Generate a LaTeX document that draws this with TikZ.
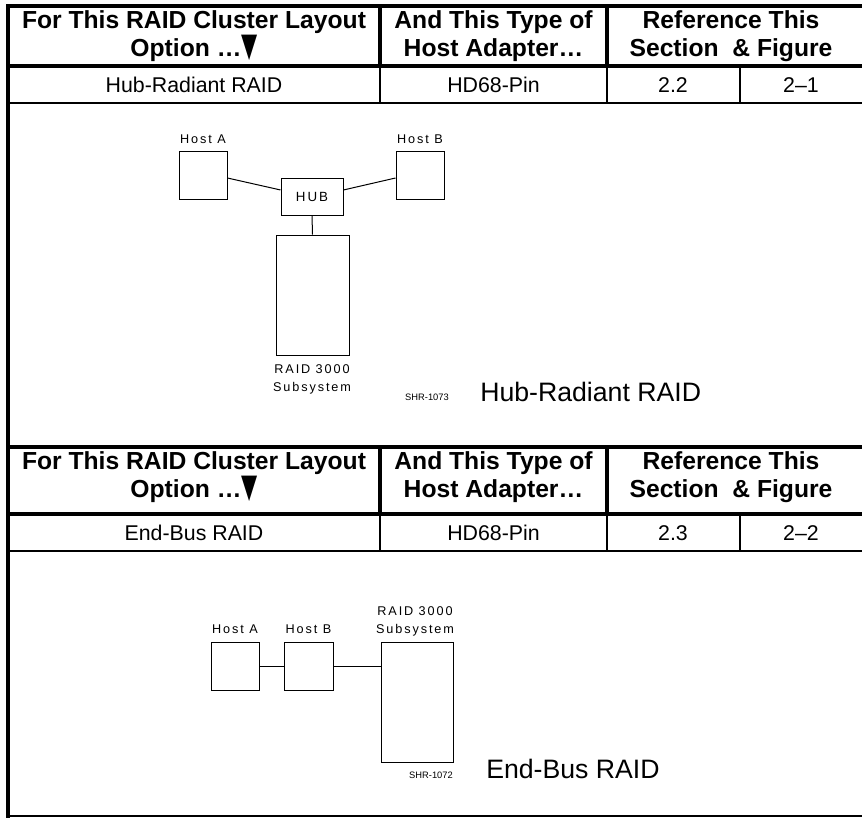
\documentclass[tikz,border=0pt]{standalone}
\usepackage{fontspec}
\setmainfont{Liberation Sans}
\newfontfamily\dejavu{DejaVu Sans}
\newfontfamily\lblfont[LetterSpace=15]{Liberation Sans}
\usetikzlibrary{calc}
\newcommand{\downtri}{{\dejavu\scalebox{0.85}[1.35]{▼}}}
\begin{document}
\begin{tikzpicture}[x=0.75pt,y=-0.75pt,
  thickrule/.style={line width=3pt},
  thinrule/.style={line width=1.8pt},
  hdr/.style={font=\fontsize{18.5}{21}\selectfont\bfseries, align=center, inner sep=0},
  cell/.style={font=\fontsize{16}{18}\selectfont, inner sep=0},
  box/.style={draw, line width=0.75pt, inner sep=0},
  lbl/.style={font=\lblfont\fontsize{9.5}{13.5}\selectfont, inner sep=0, align=center},
  shr/.style={font=\fontsize{7}{8}\selectfont, inner sep=0},
  capt/.style={font=\fontsize{20}{24}\selectfont, inner sep=0, anchor=base west},
  wire/.style={line width=0.75pt}
]
\useasboundingbox (0,0) rectangle (862,818);
\fill[white] (0,0) rectangle (862,818);

% ---------- outer frame ----------
\draw[thickrule] (6,6) -- (862,6);
\draw[thickrule] (8,4) -- (8,818);
\draw[thinrule] (8,816) -- (862,816);

% ---------- table 1 ----------
\draw[thickrule] (380,6) -- (380,66);
\draw[thickrule] (607,6) -- (607,66);
\draw[thickrule] (8,66) -- (862,66);
\draw[thinrule] (380,66) -- (380,103);
\draw[thinrule] (607,66) -- (607,103);
\draw[thinrule] (740,66) -- (740,103);
\draw[thinrule] (8,103) -- (862,103);

\node[hdr] (h1a) at (194,36) {For This RAID Cluster Layout\\Option …\downtri};
\node[hdr] (h1b) at (493.5,36) {And This Type of\\Host Adapter…};
\node[hdr] (h1c) at (731,36) {Reference This\\Section\ \ \&\ Figure};
\node[cell] (r1a) at (194,85) {Hub-Radiant RAID};
\node[cell] (r1b) at (493.5,85) {HD68-Pin};
\node[cell] (r1c) at (673,85) {2.2};
\node[cell] (r1d) at (801,85) {2–1};

% ---------- diagram 1 ----------
\node[box, minimum width=36pt, minimum height=36pt] (hostA) at (203,175) {};
\node[box, minimum width=36pt, minimum height=36pt] (hostB) at (420,175) {};
\node[box, minimum width=46.5pt, minimum height=27.75pt, font=\lblfont\fontsize{10}{11}\selectfont] (hub) at (312,196.5) {HUB};
\node[box, minimum width=54.75pt, minimum height=90pt] (raid1) at (312.5,295) {};
\node[lbl] (lA) at (203,139) {Host A};
\node[lbl] (lB) at (420,139) {Host B};
\node[lbl] (lR1) at (312,379) {RAID 3000\\Subsystem};
\node[shr] (shr1) at (427,397) {SHR-1073};
\node[capt] (cap1) at (480,401) {Hub-Radiant RAID};
\draw[wire] ([yshift=-2.25pt]hostA.east) -- ([yshift=4.9pt]hub.west);
\draw[wire] ([yshift=-2.25pt]hostB.west) -- ([yshift=4.9pt]hub.east);
\draw[wire] (hub.south) -- (raid1.north);

% ---------- table 2 ----------
\draw[thickrule] (8,447) -- (862,447);
\draw[thickrule] (380,447) -- (380,514);
\draw[thickrule] (607,447) -- (607,514);
\draw[thickrule] (8,514) -- (862,514);
\draw[thinrule] (380,514) -- (380,551);
\draw[thinrule] (607,514) -- (607,551);
\draw[thinrule] (740,514) -- (740,551);
\draw[thinrule] (8,551) -- (862,551);

\node[hdr] (h2a) at (194,477) {For This RAID Cluster Layout\\Option …\downtri};
\node[hdr] (h2b) at (493.5,477) {And This Type of\\Host Adapter…};
\node[hdr] (h2c) at (731,477) {Reference This\\Section\ \ \&\ Figure};
\node[cell] (r2a) at (194,533) {End-Bus RAID};
\node[cell] (r2b) at (493.5,533) {HD68-Pin};
\node[cell] (r2c) at (673,533) {2.3};
\node[cell] (r2d) at (801,533) {2–2};

% ---------- diagram 2 ----------
\node[box, minimum width=36pt, minimum height=36pt] (hostA2) at (235,666) {};
\node[box, minimum width=36.75pt, minimum height=36pt] (hostB2) at (308.5,666) {};
\node[box, minimum width=54pt, minimum height=90pt] (raid2) at (417,702) {};
\node[lbl] (lA2) at (235,629) {Host A};
\node[lbl] (lB2) at (308.5,629) {Host B};
\node[lbl] (lR2) at (415,621) {RAID 3000\\Subsystem};
\node[shr] (shr2) at (431,775) {SHR-1072};
\node[capt] (cap2) at (486,778) {End-Bus RAID};
\draw[wire] (hostA2.east) -- (hostB2.west);
\draw[wire] (hostB2.east) -- (hostB2.east -| raid2.west);
\end{tikzpicture}
\end{document}
